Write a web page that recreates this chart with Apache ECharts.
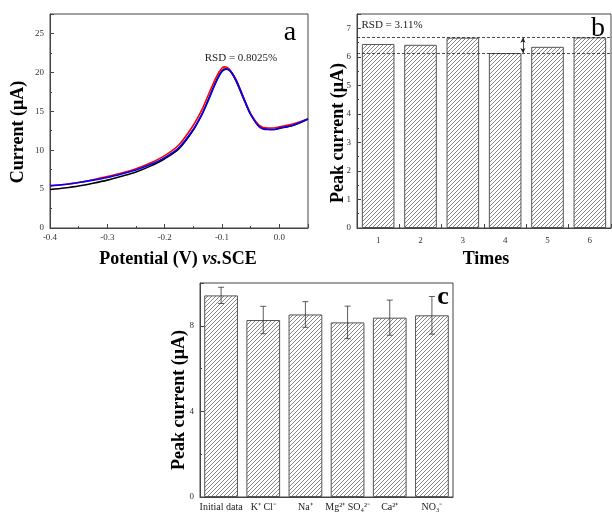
<!DOCTYPE html>
<html><head><meta charset="utf-8">
<script src="https://cdn.jsdelivr.net/npm/echarts@6/dist/echarts.min.js"></script>
<style>html,body{margin:0;padding:0;background:#fff}#c{width:612px;height:514px}</style>
</head><body><div id="c"></div>
<script>
// ---- Panel a: DPV curves (x: potential V, y: current uA)
const curveBlack = [[-0.400,4.95],[-0.375,5.15],[-0.350,5.4],[-0.325,5.75],[-0.300,6.15],[-0.275,6.65],[-0.250,7.2],[-0.225,7.95],[-0.200,8.9],[-0.175,10.2],[-0.150,12.6],[-0.135,14.6],[-0.125,16.3],[-0.110,18.9],[-0.100,20.2],[-0.093,20.45],[-0.085,20.1],[-0.075,18.8],[-0.060,16.2],[-0.050,14.6],[-0.035,13.1],[-0.020,12.7],[-0.010,12.65],[0.000,12.8],[0.025,13.2],[0.050,14.0]];
const curveRed = [[-0.400,5.4],[-0.375,5.6],[-0.350,5.85],[-0.325,6.2],[-0.300,6.6],[-0.275,7.05],[-0.250,7.6],[-0.225,8.35],[-0.200,9.3],[-0.175,10.7],[-0.150,13.2],[-0.135,15.2],[-0.125,16.9],[-0.110,19.4],[-0.100,20.55],[-0.095,20.7],[-0.087,20.4],[-0.075,19.0],[-0.060,16.3],[-0.050,14.7],[-0.035,13.2],[-0.020,12.85],[-0.010,12.85],[0.000,13.0],[0.025,13.4],[0.050,14.0]];
const curveBlue = [[-0.400,5.45],[-0.375,5.6],[-0.350,5.85],[-0.325,6.15],[-0.300,6.5],[-0.275,6.95],[-0.250,7.45],[-0.225,8.15],[-0.200,9.05],[-0.175,10.35],[-0.150,12.7],[-0.135,14.6],[-0.125,16.2],[-0.110,18.8],[-0.100,20.1],[-0.092,20.4],[-0.085,20.15],[-0.075,18.9],[-0.060,16.3],[-0.050,14.6],[-0.035,13.0],[-0.020,12.65],[-0.010,12.65],[0.000,12.85],[0.025,13.25],[0.050,14.0]];

// ---- Panel b: repeatability
const timesCats = ['1','2','3','4','5','6'];
const timesVals = [6.45, 6.42, 6.67, 6.13, 6.35, 6.68];
const rsdLines = [6.67, 6.13];
const rsdArrowX = 4.42;

// ---- Panel c: interference
const ionCats = ['Initial data','K\u207A Cl\u207B','Na\u207A','Mg\u00B2\u207A SO\u2084\u00B2\u207B','Ca\u00B2\u207A','NO\u2083\u207B'];
const ionVals = [9.42, 8.27, 8.53, 8.16, 8.38, 8.49];
const ionErr  = [0.38, 0.64, 0.6, 0.76, 0.82, 0.88];

function hatch(){
  const cv = document.createElement('canvas');
  cv.width = 4; cv.height = 4;
  const g = cv.getContext('2d');
  g.fillStyle = '#fff'; g.fillRect(0,0,4,4);
  g.strokeStyle = '#7a7a7a'; g.lineWidth = 0.9;
  g.beginPath();
  g.moveTo(0,4); g.lineTo(4,0);
  g.moveTo(-1,1); g.lineTo(1,-1);
  g.moveTo(3,5); g.lineTo(5,3);
  g.stroke();
  return {image: cv, repeat: 'repeat'};
}
const H = hatch();
const FONT = '"Liberation Serif", "Times New Roman", serif';
const lblStyle = {fontFamily: FONT, fontSize: 9, color: '#333'};
const axLine = {show: true, onZero: false, lineStyle: {color: '#444', width: 1}};
const tickIn = {show: true, inside: true, length: 4, lineStyle: {color: '#444'}};
const minorIn = {show: true, splitNumber: 2, length: 2, lineStyle: {color: '#444'}};

const chart = echarts.init(document.getElementById('c'), null, {renderer: 'canvas'});
const option = {
  animation: false,
  backgroundColor: '#fff',
  grid: [
    {left: 50, top: 14, width: 258, height: 214, show: true, borderColor: '#444', borderWidth: 1, backgroundColor: 'transparent'},
    {left: 357, top: 14, width: 254, height: 214, show: true, borderColor: '#444', borderWidth: 1, backgroundColor: 'transparent'},
    {left: 200, top: 283, width: 253, height: 214, show: true, borderColor: '#444', borderWidth: 1, backgroundColor: 'transparent'}
  ],
  xAxis: [
    {type: 'value', gridIndex: 0, min: -0.4, max: 0.05, interval: 0.1,
     axisLine: axLine, axisTick: tickIn, minorTick: minorIn, splitLine: {show: false},
     axisLabel: Object.assign({}, lblStyle, {margin: 5, showMaxLabel: false, formatter: v => v.toFixed(1)})},
    {type: 'category', gridIndex: 1, data: timesCats, boundaryGap: true,
     axisLine: axLine, axisTick: tickIn,
     axisLabel: Object.assign({}, lblStyle, {margin: 8})},
    {type: 'category', gridIndex: 2, data: ionCats, boundaryGap: true,
     axisLine: axLine, axisTick: {show: false},
     axisLabel: Object.assign({}, lblStyle, {fontSize: 10, color: '#222', margin: 5, interval: 0})},
    {type: 'value', gridIndex: 1, min: 0.5, max: 6.5, show: false, axisLine: {onZero: false}}
  ],
  yAxis: [
    {type: 'value', gridIndex: 0, min: 0, max: 27.5, interval: 5,
     axisLine: axLine, axisTick: tickIn, minorTick: minorIn, splitLine: {show: false},
     axisLabel: Object.assign({}, lblStyle, {margin: 6, showMaxLabel: false})},
    {type: 'value', gridIndex: 1, min: 0, max: 7.5, interval: 1,
     axisLine: axLine, axisTick: tickIn, minorTick: minorIn, splitLine: {show: false},
     axisLabel: Object.assign({}, lblStyle, {margin: 6, showMaxLabel: false})},
    {type: 'value', gridIndex: 2, min: 0, max: 10, interval: 4,
     axisLine: axLine, axisTick: tickIn, minorTick: minorIn, splitLine: {show: false},
     axisLabel: Object.assign({}, lblStyle, {margin: 6, showMaxLabel: false})}
  ],
  series: [
    {type: 'line', xAxisIndex: 0, yAxisIndex: 0, data: curveBlack, smooth: 0.3, showSymbol: false, lineStyle: {color: '#000', width: 1.6}},
    {type: 'line', xAxisIndex: 0, yAxisIndex: 0, data: curveRed, smooth: 0.3, showSymbol: false, lineStyle: {color: '#ff0000', width: 1.6}},
    {type: 'line', xAxisIndex: 0, yAxisIndex: 0, data: curveBlue, smooth: 0.3, showSymbol: false, lineStyle: {color: '#0000ff', width: 1.6}},
    {type: 'bar', xAxisIndex: 1, yAxisIndex: 1, data: timesVals, barWidth: '77%',
     itemStyle: {color: H, borderColor: '#555', borderWidth: 1},
     markLine: {silent: true, symbol: 'none', label: {show: false},
       lineStyle: {color: '#222', type: [3, 2], width: 0.8},
       data: rsdLines.map(v => ({yAxis: v}))}},
    {type: 'line', xAxisIndex: 3, yAxisIndex: 1, data: [],
     markLine: {silent: true, symbol: ['arrow', 'arrow'], symbolSize: [4, 5], label: {show: false},
       lineStyle: {color: '#222', type: 'solid', width: 0.8},
       data: [[{coord: [rsdArrowX, rsdLines[1]]}, {coord: [rsdArrowX, rsdLines[0]]}]]}},
    {type: 'bar', xAxisIndex: 2, yAxisIndex: 2, data: ionVals, barWidth: '80%',
     itemStyle: {color: H, borderColor: '#555', borderWidth: 1}},
    {type: 'custom', xAxisIndex: 2, yAxisIndex: 2, z: 5,
     data: ionVals.map((v, i) => [i, v - ionErr[i], v + ionErr[i]]),
     renderItem: function(params, api){
       const lo = api.coord([api.value(0), api.value(1)]);
       const hi = api.coord([api.value(0), api.value(2)]);
       const w = 3;
       const st = {stroke: '#333', lineWidth: 0.8};
       return {type: 'group', children: [
         {type: 'line', shape: {x1: lo[0], y1: lo[1], x2: hi[0], y2: hi[1]}, style: st},
         {type: 'line', shape: {x1: lo[0]-w, y1: lo[1], x2: lo[0]+w, y2: lo[1]}, style: st},
         {type: 'line', shape: {x1: hi[0]-w, y1: hi[1], x2: hi[0]+w, y2: hi[1]}, style: st}
       ]};
     }}
  ],
  graphic: [
    {type: 'text', x: 18, y: 132, rotation: Math.PI/2, style: {text: 'Current (\u03BCA)', font: 'bold 18px ' + FONT, fill: '#000', align: 'center', verticalAlign: 'middle'}},
    {type: 'text', x: 178, y: 259, style: {text: '{b|Potential (V) }{i|vs.}{b|SCE}', align: 'center', verticalAlign: 'middle',
      rich: {b: {font: 'bold 18px ' + FONT, fill: '#000'}, i: {font: 'italic bold 18px ' + FONT, fill: '#000'}}}},
    {type: 'text', x: 290, y: 33, style: {text: 'a', font: '28px ' + FONT, fill: '#000', align: 'center', verticalAlign: 'middle'}},
    {type: 'text', x: 241, y: 58, style: {text: 'RSD = 0.8025%', font: '11px ' + FONT, fill: '#222', align: 'center', verticalAlign: 'middle'}},
    {type: 'text', x: 338, y: 133, rotation: Math.PI/2, style: {text: 'Peak current (\u03BCA)', font: 'bold 18px ' + FONT, fill: '#000', align: 'center', verticalAlign: 'middle'}},
    {type: 'text', x: 486, y: 259, style: {text: 'Times', font: 'bold 18px ' + FONT, fill: '#000', align: 'center', verticalAlign: 'middle'}},
    {type: 'text', x: 598, y: 29, style: {text: 'b', font: '28px ' + FONT, fill: '#000', align: 'center', verticalAlign: 'middle'}},
    {type: 'text', x: 392, y: 25, style: {text: 'RSD = 3.11%', font: '11px ' + FONT, fill: '#222', align: 'center', verticalAlign: 'middle'}},
    {type: 'text', x: 179, y: 400, rotation: Math.PI/2, style: {text: 'Peak current (\u03BCA)', font: 'bold 18px ' + FONT, fill: '#000', align: 'center', verticalAlign: 'middle'}},
    {type: 'text', x: 443, y: 297, style: {text: 'c', font: 'bold 26px ' + FONT, fill: '#000', align: 'center', verticalAlign: 'middle'}}
  ]
};
chart.setOption(option);
</script></body></html>
